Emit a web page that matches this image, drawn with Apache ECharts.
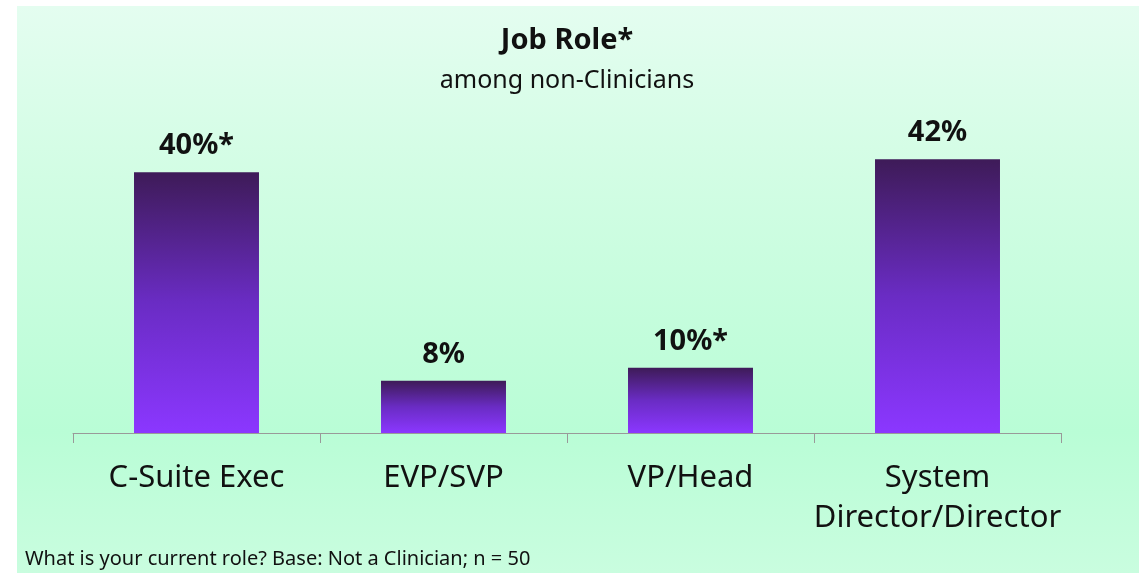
<!DOCTYPE html>
<html>
<head>
<meta charset="utf-8">
<script src="https://cdn.jsdelivr.net/npm/echarts@6/dist/echarts.min.js"></script>
<style>
html, body { margin: 0; padding: 0; background: #ffffff; }
#panel {
  position: absolute;
  left: 17px; top: 6px;
  width: 1122px; height: 567px;
  background: linear-gradient(180deg, #e4fdf0 0%, #d2fde4 30%, #b9fdd6 75%, #c9fddf 100%);
}
#bar { width: 1122px; height: 567px; }
</style>
</head>
<body>
<div id="panel"><div id="bar"></div></div>
<script>
// chart data
var categories = ["C-Suite Exec", "EVP/SVP", "VP/Head", "System\nDirector/Director"];
var values = [40, 8, 10, 42];
var valueLabels = ["40%*", "8%", "10%*", "42%"];

var titleText = "Job Role*";
var subtitleText = "among non-Clinicians";
var footnoteText = "What is your current role? Base: Not a Clinician; n = 50";

var fontFam = "'Noto Sans', Lato, sans-serif";

var myChart = echarts.init(document.getElementById("bar"));

var options = {
  backgroundColor: "transparent",
  textStyle: { fontFamily: fontFam },
  graphic: [
    {
      type: "text", x: 550, y: 35,
      style: { text: titleText, font: "bold 29px " + fontFam, fill: "#111", textAlign: "center", textVerticalAlign: "middle" }
    },
    {
      type: "text", x: 550, y: 75,
      style: { text: subtitleText, font: "25px " + fontFam, fill: "#111", textAlign: "center", textVerticalAlign: "middle" }
    },
    {
      type: "text", x: 8, y: 553,
      style: { text: footnoteText, font: "20px " + fontFam, fill: "#111", textAlign: "left", textVerticalAlign: "middle" }
    }
  ],
  grid: { left: 56, right: 78, top: 36, bottom: 140, containLabel: false },
  xAxis: {
    type: "category",
    data: categories,
    axisLine: { lineStyle: { color: "#999999", width: 1 } },
    axisTick: { show: true, length: 10, lineStyle: { color: "#999999" } },
    axisLabel: { color: "#111", fontSize: 31, lineHeight: 40, margin: 25, interval: 0, fontFamily: fontFam }
  },
  yAxis: {
    type: "value",
    min: 0,
    max: 60,
    show: false,
    splitLine: { show: false }
  },
  series: [
    {
      type: "bar",
      data: values,
      barWidth: "50.6%",
      itemStyle: {
        color: new echarts.graphic.LinearGradient(0, 0, 0, 1, [
          { offset: 0, color: "#3e1b58" },
          { offset: 0.5, color: "#6a2cc4" },
          { offset: 1, color: "#8b37ff" }
        ])
      },
      label: {
        show: true,
        position: "top",
        distance: 12,
        color: "#111",
        fontSize: 29,
        fontWeight: "bold",
        fontFamily: fontFam,
        formatter: function (p) { return valueLabels[p.dataIndex]; }
      }
    }
  ]
};

myChart.setOption(options);
</script>
</body>
</html>
